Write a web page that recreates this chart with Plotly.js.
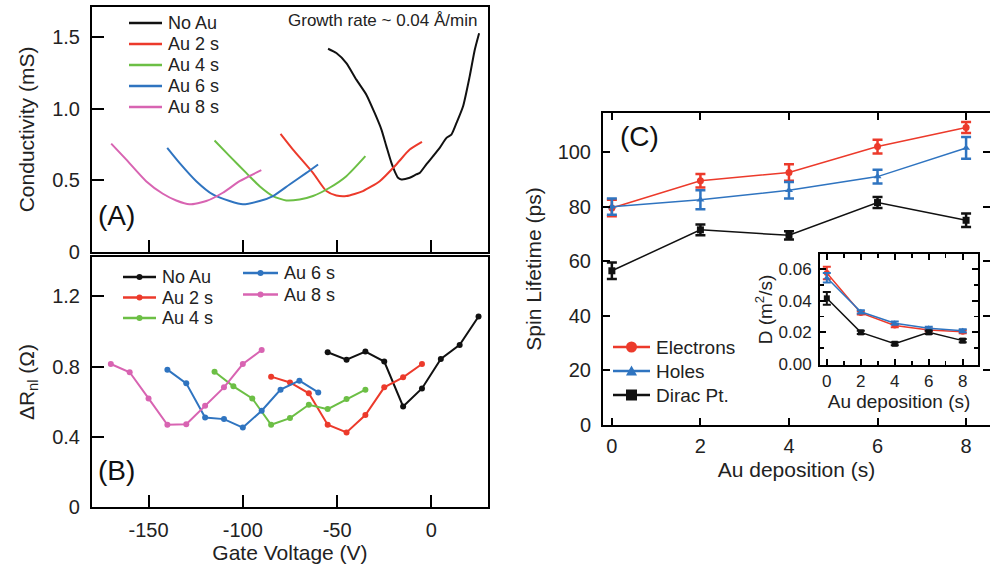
<!DOCTYPE html>
<html>
<head>
<meta charset="utf-8">
<script src="https://cdn.plot.ly/plotly-3.0.1.min.js"></script>
<style>html,body{margin:0;padding:0;background:#fff;}#chart{width:990px;height:567px;}</style>
</head>
<body>
<div id="chart"></div>
<script>
// ---------- Panel A: conductivity vs gate voltage ----------
const aNoAuX = [-54.8,-50.4,-45.1,-39.8,-34.5,-30.1,-26.5,-23.9,-21.2,-19.5,-17.7,-15.9,-11.5,-8.0,-6.2,-2.7,0.9,4.4,8.0,10.6,13.3,16.8,20.3,23.0,25.3];
const aNoAuY = [1.421,1.391,1.321,1.205,1.10,0.972,0.856,0.740,0.623,0.565,0.519,0.507,0.519,0.542,0.553,0.612,0.67,0.728,0.798,0.821,0.902,1.019,1.228,1.414,1.530];
const aAu2X = [-80,-73.4,-62.8,-55.7,-50.4,-45.1,-36.3,-27.4,-18.6,-11.5,-5];
const aAu2Y = [0.826,0.716,0.553,0.426,0.395,0.391,0.426,0.495,0.612,0.716,0.77];
const aAu4X = [-115,-107,-98.2,-91.1,-84,-77,-69.9,-62.8,-54,-45.1,-35];
const aAu4Y = [0.779,0.67,0.553,0.46,0.391,0.36,0.367,0.391,0.449,0.53,0.67];
const aAu6X = [-140.1,-133.6,-124.7,-115.9,-107,-100,-91.1,-84,-75.2,-66.3,-60.1];
const aAu6Y = [0.728,0.623,0.495,0.402,0.356,0.333,0.356,0.391,0.472,0.553,0.612];
const aAu8X = [-169.8,-161.9,-151.3,-142.4,-135.3,-128.3,-119.4,-110.6,-101.7,-90.2];
const aAu8Y = [0.758,0.647,0.495,0.407,0.36,0.333,0.356,0.414,0.495,0.572];

// ---------- Panel B: nonlocal spin signal ----------
const bNoAuX = [-55,-45,-35,-25,-15,-5,5,15,25];
const bNoAuY = [0.882,0.84,0.886,0.829,0.573,0.676,0.844,0.924,1.086];
const bAu2X = [-85,-75,-65,-55,-45,-35,-25,-15,-5];
const bAu2Y = [0.743,0.71,0.648,0.469,0.425,0.524,0.682,0.739,0.815];
const bAu4X = [-115,-105,-95,-85,-75,-65,-55,-45,-35];
const bAu4Y = [0.771,0.688,0.619,0.469,0.507,0.583,0.558,0.615,0.669];
const bAu6X = [-140,-130,-120,-110,-100,-90,-80,-70,-60];
const bAu6Y = [0.783,0.705,0.51,0.501,0.453,0.549,0.669,0.72,0.653];
const bAu8X = [-170,-160,-150,-140,-130,-120,-110,-100,-90];
const bAu8Y = [0.815,0.768,0.619,0.469,0.472,0.577,0.682,0.815,0.895];

// ---------- Panel C: spin lifetime ----------
const auDep = [0,2,4,6,8];
const tauE = [79.5,89.5,92.5,102,109];
const tauEerr = [3,2.5,3,2.5,2];
const tauH = [80,82.5,86,91,101.5];
const tauHerr = [3,3.5,3,2.5,4];
const tauD = [56.5,71.5,69.5,81.5,75];
const tauDerr = [3,2,1.5,2,2.5];

// ---------- Inset: diffusion coefficient ----------
const dE = [0.0575,0.0323,0.0243,0.0215,0.0204];
const dEerr = [0.004,0.001,0.001,0.001,0.001];
const dH = [0.0545,0.0330,0.0258,0.0226,0.0210];
const dHerr = [0.003,0.001,0.001,0.001,0.001];
const dD = [0.0415,0.0200,0.0128,0.0200,0.0148];
const dDerr = [0.004,0.001,0.001,0.001,0.001];

// ---------- Labels ----------
const labelsA = ['No Au','Au 2 s','Au 4 s','Au 6 s','Au 8 s'];
const labelsC = ['Electrons','Holes','Dirac Pt.'];
const ticksGate = [-150,-100,-50,0];
const ticksGateText = ['-150','-100','-50','0'];

const BLACK = '#111111', RED = '#ec3a2b', GREEN = '#6cbf45', BLUE = '#2f74c0', PINK = '#d864b2';
const colors = [BLACK, RED, GREEN, BLUE, PINK];
const FONT = 'Liberation Sans, Arial, Helvetica, sans-serif';

const traces = [];
const aX = [aNoAuX,aAu2X,aAu4X,aAu6X,aAu8X];
const aY = [aNoAuY,aAu2Y,aAu4Y,aAu6Y,aAu8Y];
for (let i = 0; i < 5; i++) {
  traces.push({x: aX[i], y: aY[i], xaxis: 'x', yaxis: 'y', mode: 'lines', name: labelsA[i], showlegend: false,
    line: {color: colors[i], width: 2, shape: 'spline', smoothing: 0.6}, hoverinfo: 'skip'});
}
const bX = [bNoAuX,bAu2X,bAu4X,bAu6X,bAu8X];
const bY = [bNoAuY,bAu2Y,bAu4Y,bAu6Y,bAu8Y];
for (let i = 0; i < 5; i++) {
  traces.push({x: bX[i], y: bY[i], xaxis: 'x2', yaxis: 'y2', mode: 'lines+markers', name: labelsA[i], showlegend: false,
    line: {color: colors[i], width: 2}, marker: {color: colors[i], size: 6}, hoverinfo: 'skip'});
}
const cColors = [RED, BLUE, BLACK];
const cSymbols = ['circle','triangle-up','square'];
const cY = [tauE, tauH, tauD], cE = [tauEerr, tauHerr, tauDerr];
const iY = [dE, dH, dD], iE = [dEerr, dHerr, dDerr];
for (let i = 0; i < 3; i++) {
  traces.push({x: auDep, y: cY[i], xaxis: 'x3', yaxis: 'y3', mode: 'lines+markers', name: labelsC[i], showlegend: false,
    line: {color: cColors[i], width: 1.5}, marker: {color: cColors[i], symbol: cSymbols[i], size: 7},
    error_y: {type: 'data', array: cE[i], color: cColors[i], thickness: 2.5, width: 5}, hoverinfo: 'skip'});
  traces.push({x: auDep, y: iY[i], xaxis: 'x4', yaxis: 'y4', mode: 'lines+markers', name: labelsC[i], showlegend: false,
    line: {color: cColors[i], width: 1.5}, marker: {color: cColors[i], symbol: cSymbols[i], size: 6},
    error_y: {type: 'data', array: iE[i], color: cColors[i], thickness: 2, width: 4}, hoverinfo: 'skip'});
}

// ---------- hand-drawn legend keys (paper coords from pixel positions) ----------
const W = 990, H = 567;
const px = v => v / W, py = v => 1 - v / H;
const shapes = [], annotations = [];
function legendKey(x0, x1, y, color, symbol, label, fontSize, msize, lw) {
  shapes.push({type: 'line', xref: 'paper', yref: 'paper', x0: px(x0), x1: px(x1), y0: py(y), y1: py(y),
    line: {color: color, width: lw}});
  const xm = px((x0 + x1) / 2), ym = py(y), r = msize / 2;
  if (symbol === 'circle') {
    shapes.push({type: 'circle', xref: 'paper', yref: 'paper', xsizemode: 'pixel', ysizemode: 'pixel',
      xanchor: xm, yanchor: ym, x0: -r, x1: r, y0: -r, y1: r, fillcolor: color, line: {width: 0}});
  } else if (symbol === 'square') {
    shapes.push({type: 'rect', xref: 'paper', yref: 'paper', xsizemode: 'pixel', ysizemode: 'pixel',
      xanchor: xm, yanchor: ym, x0: -r, x1: r, y0: -r, y1: r, fillcolor: color, line: {width: 0}});
  } else if (symbol === 'triangle-up') {
    shapes.push({type: 'path', xref: 'paper', yref: 'paper', xsizemode: 'pixel', ysizemode: 'pixel',
      xanchor: xm, yanchor: ym, path: `M ${-r} ${-r*0.8} L ${r} ${-r*0.8} L 0 ${r} Z`, fillcolor: color, line: {width: 0}});
  }
  annotations.push({text: label, xref: 'paper', yref: 'paper', x: px(x1 + 4), y: ym, xanchor: 'left', yanchor: 'middle',
    showarrow: false, font: {family: FONT, size: fontSize, color: '#222'}});
}
// Panel A legend
for (let i = 0; i < 5; i++) legendKey(129, 162, 23 + 21 * i, colors[i], null, labelsA[i], 18, 0, 2.5);
// Panel B legend (two columns)
for (let i = 0; i < 3; i++) legendKey(123, 156, 277 + 20.5 * i, colors[i], 'circle', labelsA[i], 18, 6, 2.5);
for (let i = 3; i < 5; i++) legendKey(243, 278, 273 + 21.5 * (i - 3), colors[i], 'circle', labelsA[i], 18, 6, 2.5);
// Panel C legend
for (let i = 0; i < 3; i++) legendKey(613, 650, 347 + 24 * i, cColors[i], cSymbols[i], labelsC[i], 19, 11, 2.5);

annotations.push(
  {text: 'Growth rate ~ 0.04 Å/min', xref: 'paper', yref: 'paper', x: px(479), y: py(20),
    xanchor: 'right', yanchor: 'middle', showarrow: false, font: {family: FONT, size: 17, color: '#222'}},
  {text: '(A)', xref: 'paper', yref: 'paper', x: px(96), y: py(215), xanchor: 'left', yanchor: 'middle',
    showarrow: false, font: {family: FONT, size: 28, color: '#111'}},
  {text: '(B)', xref: 'paper', yref: 'paper', x: px(96), y: py(470), xanchor: 'left', yanchor: 'middle',
    showarrow: false, font: {family: FONT, size: 28, color: '#111'}},
  {text: '(C)', xref: 'paper', yref: 'paper', x: px(618), y: py(137), xanchor: 'left', yanchor: 'middle',
    showarrow: false, font: {family: FONT, size: 28, color: '#111'}}
);

const tickFont = {family: FONT, size: 20, color: '#222'};
const titleFont = {family: FONT, size: 21, color: '#222'};
const smallTick = {family: FONT, size: 17, color: '#222'};
const smallTitle = {family: FONT, size: 19, color: '#222'};
const boxAxis = {showline: true, linewidth: 2, linecolor: '#000', mirror: true, ticks: 'inside',
  ticklen: 12, tickwidth: 2, tickcolor: '#000', showgrid: false, zeroline: false, tickfont: tickFont, ticklabelstandoff: 6};

const layout = {
  width: W, height: H,
  margin: {l: 0, r: 0, t: 0, b: 0},
  paper_bgcolor: '#fff', plot_bgcolor: 'rgba(0,0,0,0)',
  font: {family: FONT, color: '#222'},
  showlegend: false,
  xaxis: Object.assign({}, boxAxis, {domain: [0.0929, 0.4929], anchor: 'y', range: [-180, 30],
    tickvals: ticksGate, showticklabels: false}),
  yaxis: Object.assign({}, boxAxis, {domain: [0.5556, 0.9877], anchor: 'x', range: [0, 1.713],
    tickvals: [0,0.5,1,1.5], ticktext: ['0','0.5','1.0','1.5'],
    title: {text: 'Conductivity (mS)', font: titleFont, standoff: 12}}),
  xaxis2: Object.assign({}, boxAxis, {domain: [0.0929, 0.4929], anchor: 'y2', range: [-180, 30],
    tickvals: ticksGate, ticktext: ticksGateText, ticklabelstandoff: 4,
    title: {text: 'Gate Voltage (V)', font: titleFont, standoff: 4}}),
  yaxis2: Object.assign({}, boxAxis, {domain: [0.1058, 0.5467], anchor: 'x2', range: [0, 1.425],
    tickvals: [0,0.4,0.8,1.2], ticktext: ['0','0.4','0.8','1.2'],
    title: {text: 'ΔR<sub>nl</sub> (Ω)', font: titleFont, standoff: 12}}),
  xaxis3: Object.assign({}, boxAxis, {domain: [0.6091, 1], anchor: 'y3', range: [-0.2, 8.54],
    tickvals: [0,2,4,6,8], ticklen: 7, mirror: 'allticks', ticklabelstandoff: 2,
    title: {text: 'Au deposition (s)', font: titleFont, standoff: 6}}),
  yaxis3: Object.assign({}, boxAxis, {domain: [0.2504, 0.8007], anchor: 'x3', range: [0, 114.3],
    tickvals: [0,20,40,60,80,100], ticklen: 7, mirror: 'allticks',
    title: {text: 'Spin Lifetime (ps)', font: titleFont, standoff: 10}}),
  xaxis4: Object.assign({}, boxAxis, {domain: [0.8283, 0.9879], anchor: 'y4', range: [-0.4, 8.9],
    tickvals: [0,2,4,6,8], ticklen: 6, mirror: 'allticks', ticklabelstandoff: 0,
    minor: {dtick: 1, ticks: 'inside', ticklen: 4, tickwidth: 1.5, tickcolor: '#000'},
    tickfont: smallTick, title: {text: 'Au deposition (s)', font: smallTitle, standoff: 4}}),
  yaxis4: Object.assign({}, boxAxis, {domain: [0.3563, 0.5520], anchor: 'x4', range: [-0.0006, 0.0695],
    tickvals: [0,0.02,0.04,0.06], ticktext: ['0.00','0.02','0.04','0.06'], ticklen: 6, mirror: 'allticks', ticklabelstandoff: 3,
    minor: {dtick: 0.01, ticks: 'inside', ticklen: 4, tickwidth: 1.5, tickcolor: '#000'},
    tickfont: smallTick, title: {text: 'D (m<sup>2</sup>/s)', font: smallTitle, standoff: 1}}),
  shapes: shapes,
  annotations: annotations
};

Plotly.newPlot('chart', traces, layout, {staticPlot: true, displayModeBar: false});
</script>
</body>
</html>
